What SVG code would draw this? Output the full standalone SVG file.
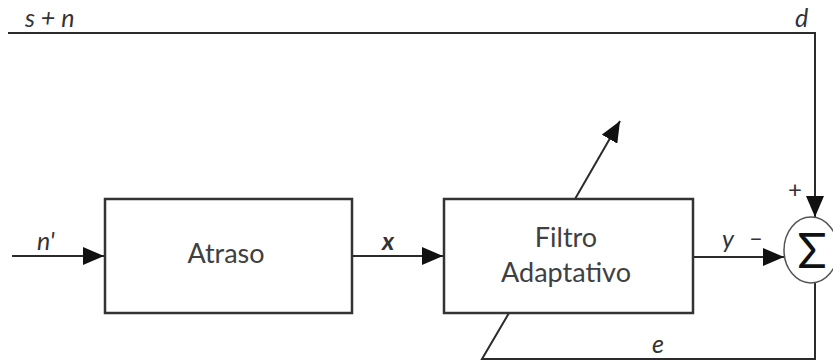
<svg xmlns="http://www.w3.org/2000/svg" width="833" height="362" viewBox="0 0 833 362">
  <style>
    .wire { fill: none; stroke: #2b2b2b; stroke-width: 2; }
    .box { fill: #ffffff; stroke: #333333; stroke-width: 2.5; }
    .sum { fill: #ffffff; stroke: #555555; stroke-width: 1.5; }
    .blk { font-family: Lato, "Open Sans", sans-serif; font-size: 27px; fill: #404040; text-anchor: middle; }
    .lbl { font-family: Lato, "Open Sans", sans-serif; font-size: 25px; font-style: italic; fill: #333333; }
    .sgn { font-family: Lato, "Open Sans", sans-serif; font-size: 24px; fill: #333333; }
  </style>
  <defs>
    <marker id="arrow" viewBox="0 0 21 18" refX="21" refY="9" markerWidth="21" markerHeight="18" markerUnits="userSpaceOnUse" orient="auto">
      <path d="M0,0 L21,9 L0,18 Z" fill="#111111"/>
    </marker>
  </defs>

  <!-- signal paths -->
  <g id="connectors">
    <polyline class="wire" points="8,33 815,33 815,217" marker-end="url(#arrow)"/>
    <line class="wire" x1="12" y1="256" x2="104" y2="256" marker-end="url(#arrow)"/>
    <line class="wire" x1="353" y1="256" x2="443" y2="256" marker-end="url(#arrow)"/>
    <line class="wire" x1="694" y1="257" x2="784" y2="257" marker-end="url(#arrow)"/>
    <polyline class="wire" points="815,283 815,359 482,359 509,313"/>
    <line class="wire" x1="575" y1="199" x2="620" y2="121" marker-end="url(#arrow)"/>
  </g>

  <g id="atraso">
    <rect class="box" x="105" y="199" width="247" height="114"/>
    <text class="blk" x="226" y="263">Atraso</text>
  </g>

  <g id="filtro">
    <rect class="box" x="444" y="199" width="249" height="114"/>
    <text class="blk" x="566" y="247">Filtro</text>
    <text class="blk" x="566" y="282">Adaptativo</text>
  </g>

  <g id="somador">
    <ellipse class="sum" cx="811" cy="250" rx="27" ry="33"/>
    <text x="812" y="268" font-family="Lato, 'Open Sans', sans-serif" font-size="48" fill="#111111" text-anchor="middle">Σ</text>
  </g>

  <!-- signal labels -->
  <g id="labels">
    <text class="lbl" x="25" y="27">s + n</text>
    <text class="lbl" x="795" y="27">d</text>
    <text class="lbl" x="37" y="250">n'</text>
    <text class="lbl" x="382" y="250" font-weight="bold">x</text>
    <text class="lbl" x="722" y="248">y</text>
    <text class="sgn" x="749" y="246">–</text>
    <text class="sgn" x="788" y="198">+</text>
    <text class="lbl" x="652" y="353">e</text>
  </g>
</svg>
